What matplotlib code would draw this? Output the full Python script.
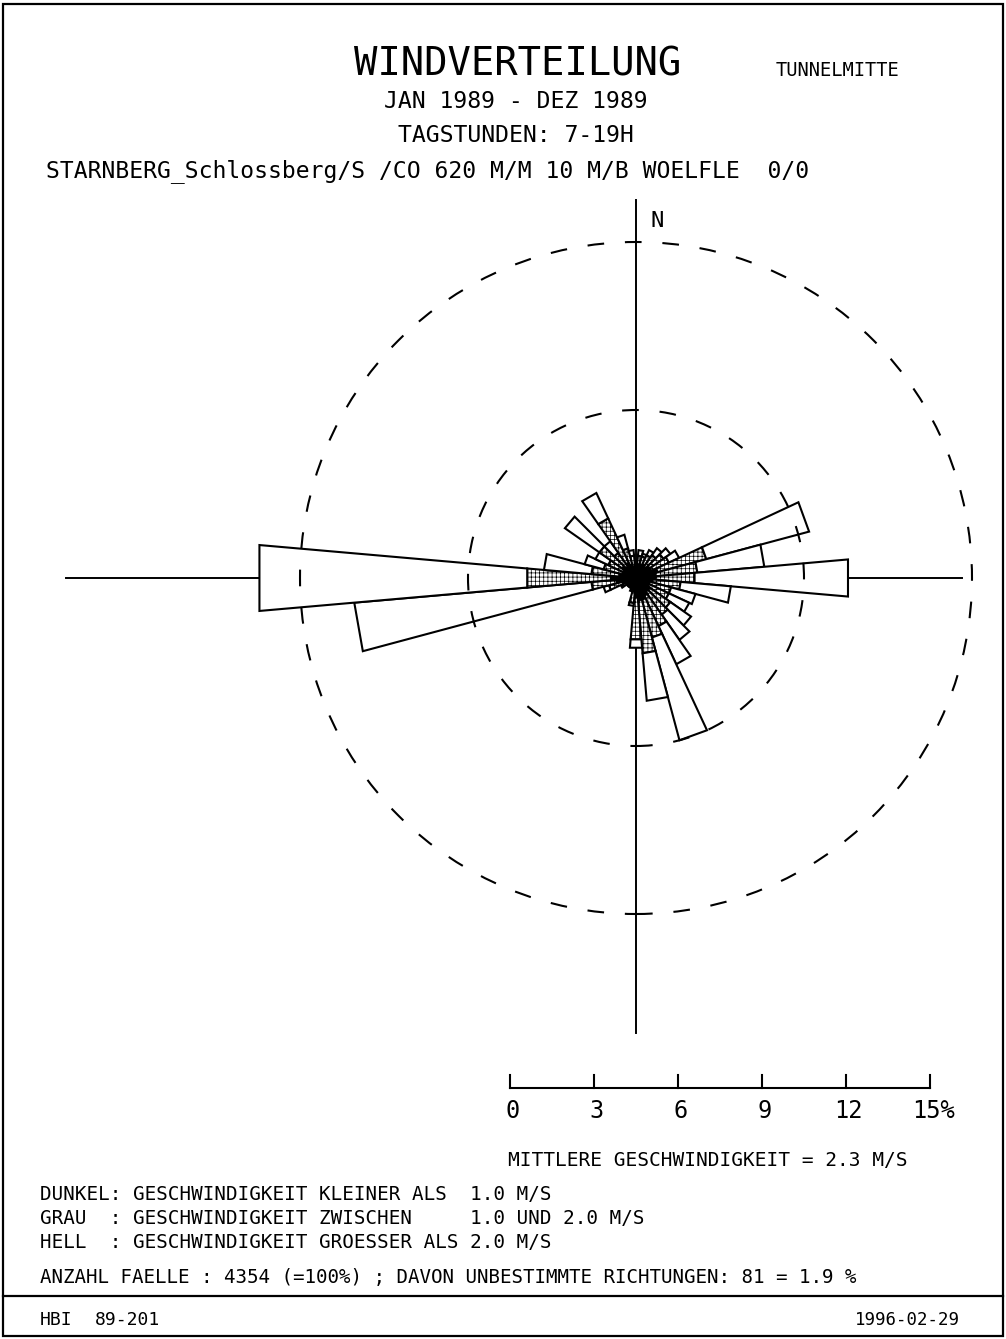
import numpy as np
import matplotlib.pyplot as plt
from matplotlib.patches import Polygon, Circle, Rectangle

plt.rcParams['font.family'] = ['DejaVu Sans Mono']
plt.rcParams['hatch.linewidth'] = 0.5

# Windrichtung in Grad (Sektoren a 10 Grad)
richtung = np.arange(0, 360, 10)
# Anteile in % je Sektor: dunkel (<1 m/s), grau (1-2 m/s), hell (>2 m/s)
dunkel = [0.4, 0.5, 0.5, 0.5, 0.5, 0.6, 0.6, 0.8, 0.7, 0.7, 0.6, 0.5,
          0.5, 0.6, 0.6, 0.7, 0.8, 0.8, 0.7, 0.5, 0.4, 0.3, 0.3, 0.3,
          0.4, 0.5, 0.7, 0.9, 0.6, 0.5, 0.5, 0.6, 0.5, 0.6, 0.5, 0.4]
grau = [0.1, 0.3, 0.3, 0.4, 0.5, 0.6, 0.7, 1.8, 1.5, 1.4, 1.0, 0.8,
        0.8, 0.9, 1.0, 1.2, 1.4, 1.9, 1.5, 0.4, 0.1, 0.1, 0.1, 0.1,
        0.2, 0.5, 0.9, 3.0, 1.0, 0.7, 0.6, 1.0, 0.6, 1.75, 0.6, 0.4]
hell = [0.0, 0.2, 0.1, 0.2, 0.3, 0.3, 0.4, 3.8, 2.4, 5.5, 1.8, 0.9,
        0.8, 0.9, 1.1, 1.5, 3.8, 1.7, 0.3, 0.1, 0.0, 0.0, 0.0, 0.0,
        0.0, 0.2, 8.5, 9.6, 1.7, 0.7, 0.5, 1.5, 0.5, 1.0, 0.5, 0.2]

kreise = [6, 12]
skala = [0, 3, 6, 9, 12, 15]
breite = 10.0

legende = ['DUNKEL: GESCHWINDIGKEIT KLEINER ALS  1.0 M/S',
           'GRAU  : GESCHWINDIGKEIT ZWISCHEN     1.0 UND 2.0 M/S',
           'HELL  : GESCHWINDIGKEIT GROESSER ALS 2.0 M/S']

PX = 28.0          # Pixel je Prozent
CX, CY = 636, 578  # Mittelpunkt der Rose in Pixeln


def px(x, y):
    return (x - CX) / PX, (CY - y) / PX


def punkt(r, phi):
    a = np.radians(phi)
    return r * np.sin(a), r * np.cos(a)


fig = plt.figure(figsize=(10.06, 13.39), dpi=100)
ax = fig.add_axes([0, 0, 1, 1])
ax.set_xlim(-CX / PX, (1006 - CX) / PX)
ax.set_ylim(-(1339 - CY) / PX, CY / PX)
ax.axis('off')

# Rahmen und Trennlinie unten
x0, y0 = px(3, 1336)
x1, y1 = px(1003, 4)
ax.add_patch(Rectangle((x0, y0), x1 - x0, y1 - y0, fill=False, lw=1.6, color='black'))
ax.plot([x0, x1], [px(0, 1296)[1]] * 2, color='black', lw=1.6)

# Achsenkreuz
ax.plot([px(66, 0)[0], px(962, 0)[0]], [0, 0], color='black', lw=1.4, zorder=1)
ax.plot([0, 0], [px(0, 200)[1], px(0, 1033)[1]], color='black', lw=1.4, zorder=1)
ax.text(*px(651, 221), 'N', fontsize=16, ha='left', va='center')

# Sektoren
for d, a, b, c in zip(richtung, dunkel, grau, hell):
    grenzen = [0, a, a + b, a + b + c]
    stile = [dict(facecolor='black'),
             dict(facecolor='white', hatch='++++'),
             dict(facecolor='white')]
    for i in range(3):
        r0, r1 = grenzen[i], grenzen[i + 1]
        if r1 <= r0:
            continue
        ecken = [punkt(r0, d - breite / 2), punkt(r1, d - breite / 2),
                 punkt(r1, d + breite / 2), punkt(r0, d + breite / 2)]
        ax.add_patch(Polygon(ecken, closed=True, edgecolor='black', lw=1.5,
                             zorder=2, **stile[i]))

# Gestrichelte Kreise
for r in kreise:
    ax.add_patch(Circle((0, 0), r, fill=False, color='black', lw=1.5,
                        linestyle=(0, (8, 10)), zorder=3))

# Massstab
sx, sy = px(510, 1088)
ax.plot([sx + skala[0], sx + skala[-1]], [sy, sy], color='black', lw=1.5)
for s in skala:
    ax.plot([sx + s, sx + s], [sy, sy + 0.45], color='black', lw=1.5)
    if s == skala[-1]:
        ax.text(sx + s - 0.65, px(0, 1111)[1], f'{s}%', fontsize=17,
                ha='left', va='center')
    else:
        ax.text(sx + s + 0.1, px(0, 1111)[1], str(s), fontsize=17,
                ha='center', va='center')

# Titeltexte
ax.text(*px(518, 64), 'WINDVERTEILUNG', fontsize=28, ha='center', va='center')
ax.text(*px(838, 71), 'TUNNELMITTE', fontsize=13.5, ha='center', va='center')
ax.text(*px(516, 101), 'JAN 1989 - DEZ 1989', fontsize=16.7, ha='center', va='center')
ax.text(*px(516, 135), 'TAGSTUNDEN: 7-19H', fontsize=16.7, ha='center', va='center')
ax.text(*px(46, 177), 'STARNBERG_Schlossberg/S /CO 620 M/M 10 M/B WOELFLE  0/0',
        fontsize=16.6, ha='left', va='baseline')

ax.text(*px(508, 1160), 'MITTLERE GESCHWINDIGKEIT = 2.3 M/S', fontsize=14,
        ha='left', va='center')

# Legende
for zeile, y in zip(legende, [1195, 1219, 1242]):
    ax.text(*px(40, y), zeile, fontsize=13.9, ha='left', va='center')

ax.text(*px(40, 1278),
        'ANZAHL FAELLE : 4354 (=100%) ; DAVON UNBESTIMMTE RICHTUNGEN: 81 = 1.9 %',
        fontsize=13.75, ha='left', va='center')

# Fusszeile
ax.text(*px(40, 1320), 'HBI', fontsize=13, ha='left', va='center')
ax.text(*px(95, 1320), '89-201', fontsize=13, ha='left', va='center')
ax.text(*px(960, 1320), '1996-02-29', fontsize=12.5, ha='right', va='center')

fig.savefig('out.png', dpi=100)
